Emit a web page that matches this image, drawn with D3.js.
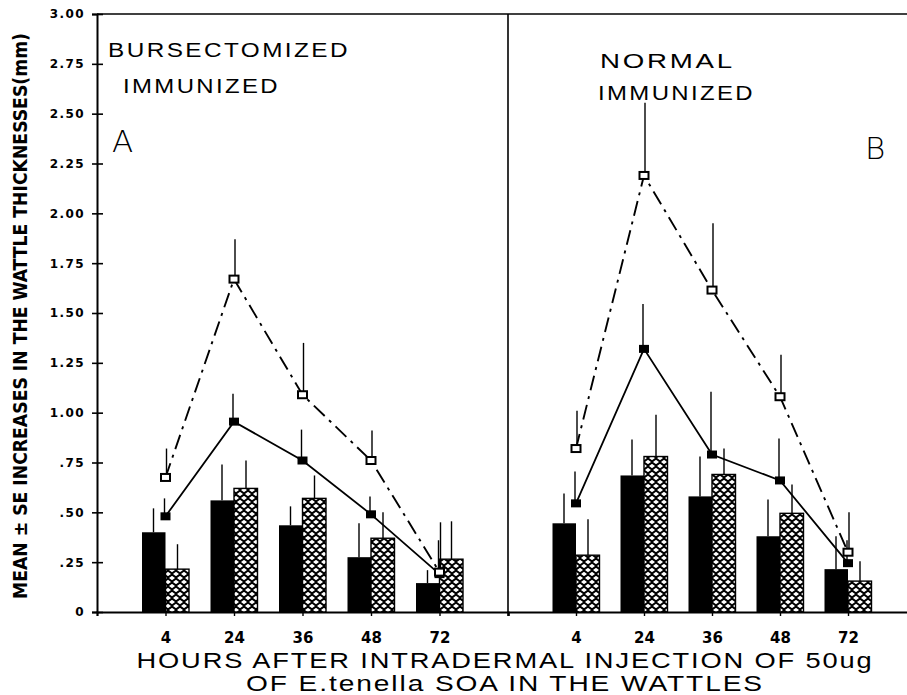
<!DOCTYPE html>
<html>
<head>
<meta charset="utf-8">
<script src="https://cdn.jsdelivr.net/npm/d3@7"></script>
<style>
  body { margin: 0; background: #fff; }
  svg { display: block; }
</style>
</head>
<body>
<script>
// hours after injection (x categories)
const hours = ["4", "24", "36", "48", "72"];
const yTicks = [0, 0.25, 0.5, 0.75, 1, 1.25, 1.5, 1.75, 2, 2.25, 2.5, 2.75, 3];

// panel A - bursectomized immunized
const barBlackA = [0.40, 0.56, 0.435, 0.275, 0.145];
const barBlackSeA = [0.12, 0.18, 0.095, 0.17, 0.065];
const barHatchA = [0.215, 0.62, 0.57, 0.37, 0.265];
const barHatchSeA = [0.125, 0.14, 0.115, 0.13, 0.19];
const solidA = [0.48, 0.955, 0.76, 0.49, 0.19];
const solidSeA = [0.09, 0.14, 0.155, 0.09, 0.17];
const dashA = [0.675, 1.67, 1.09, 0.76, 0.20];
const dashSeA = [0.145, 0.20, 0.26, 0.15, 0.25];

// panel B - normal immunized
const barBlackB = [0.445, 0.685, 0.58, 0.38, 0.215];
const barBlackSeB = [0.15, 0.18, 0.20, 0.185, 0.165];
const barHatchB = [0.285, 0.78, 0.69, 0.495, 0.155];
const barHatchSeB = [0.18, 0.21, 0.13, 0.145, 0.10];
const solidB = [0.545, 1.32, 0.79, 0.66, 0.245];
const solidSeB = [0.16, 0.225, 0.315, 0.21, 0.115];
const dashB = [0.82, 2.19, 1.615, 1.08, 0.30];
const dashSeB = [0.19, 0.365, 0.335, 0.21, 0.20];

const W = 907, H = 695;
const svg = d3.select("body").append("svg").attr("width", W).attr("height", H);

// crosshatch pattern (white diamonds on black)
const pat = svg.append("defs").append("pattern")
  .attr("id", "hatch").attr("patternUnits", "userSpaceOnUse")
  .attr("width", 8).attr("height", 8);
pat.append("rect").attr("width", 8).attr("height", 8).attr("fill", "#000");
[[4, 2], [0, 6], [8, 6]].forEach(([cx, cy]) => {
  pat.append("path")
    .attr("d", `M${cx - 3},${cy} L${cx},${cy - 2.2} L${cx + 3},${cy} L${cx},${cy + 2.2} Z`)
    .attr("fill", "#fff");
});

const y = d3.scaleLinear().domain([0, 3]).range([612, 14]);
const xA = d3.scalePoint().domain(hours).range([97, 508]).padding(1);
const xB = d3.scalePoint().domain(hours).range([508, 916]).padding(1);
const barW = 23.5;

// frame
svg.append("line").attr("x1", 97).attr("x2", W).attr("y1", y(3)).attr("y2", y(3))
  .attr("stroke", "#000").attr("stroke-width", 1.6);
svg.append("line").attr("x1", 508).attr("x2", 508).attr("y1", y(3)).attr("y2", y(0))
  .attr("stroke", "#000").attr("stroke-width", 1.6);

// y axis
const fmt = v => v === 0 ? "0" : (v < 1 ? d3.format(".2f")(v).slice(1) : d3.format(".2f")(v));
const yAxis = svg.append("g").attr("transform", "translate(97,0)")
  .call(d3.axisLeft(y).tickValues(yTicks).tickFormat(fmt).tickSize(5).tickPadding(7));
yAxis.select(".domain").attr("stroke-width", 2);
yAxis.selectAll(".tick line").attr("x1", 6).attr("x2", -5).attr("stroke-width", 1.6);
yAxis.selectAll(".tick text")
  .attr("font-family", "DejaVu Sans").attr("font-weight", "bold")
  .attr("font-size", 12).attr("letter-spacing", 1.4).attr("fill", "#000");

// x axes
function xAxis(sc) {
  const g = svg.append("g").attr("transform", "translate(0,612)")
    .call(d3.axisBottom(sc).tickSize(4).tickPadding(16));
  g.select(".domain").attr("stroke-width", 2.2);
  g.selectAll(".tick line").attr("stroke-width", 1.4);
  g.selectAll(".tick text").attr("font-family", "DejaVu Sans").attr("font-weight", "bold")
    .attr("font-size", 15).attr("fill", "#000");
}
xAxis(xA);
xAxis(xB);

function panel(x, blk, blkSe, hat, hatSe, sol, solSe, dsh, dshSe) {
  const g = svg.append("g");
  // bars
  g.selectAll(".bk").data(hours).join("rect")
    .attr("x", d => x(d) - barW).attr("width", barW)
    .attr("y", (d, i) => y(blk[i])).attr("height", (d, i) => y(0) - y(blk[i]))
    .attr("fill", "#000");
  g.selectAll(".ht").data(hours).join("rect").attr("class", "ht")
    .attr("x", d => x(d)).attr("width", barW)
    .attr("y", (d, i) => y(hat[i])).attr("height", (d, i) => y(0) - y(hat[i]))
    .attr("fill", "url(#hatch)").attr("stroke", "#000").attr("stroke-width", 1.4);
  // error bars
  const err = (vals, se, dx) => g.append("g").selectAll("line").data(hours).join("line")
    .attr("x1", d => x(d) + dx).attr("x2", d => x(d) + dx)
    .attr("y1", (d, i) => y(vals[i])).attr("y2", (d, i) => y(vals[i] + se[i]))
    .attr("stroke", "#000").attr("stroke-width", 1.4);
  err(blk, blkSe, -12);
  err(hat, hatSe, 12);
  err(sol, solSe, -1);
  err(dsh, dshSe, 1);

  const line = vals => d3.line().x((d, i) => x(hours[i])).y(d => y(d))(vals);
  g.append("path").attr("d", line(sol)).attr("fill", "none")
    .attr("stroke", "#000").attr("stroke-width", 1.8);
  g.append("path").attr("d", line(dsh)).attr("fill", "none")
    .attr("stroke", "#000").attr("stroke-width", 1.9).attr("stroke-dasharray", "15,6,3,6");

  g.append("g").selectAll("rect").data(hours).join("rect")
    .attr("x", d => x(d) - 5).attr("y", (d, i) => y(sol[i]) - 4)
    .attr("width", 10).attr("height", 8).attr("fill", "#000");
  g.append("g").selectAll("rect").data(hours).join("rect")
    .attr("x", d => x(d) - 4.5).attr("y", (d, i) => y(dsh[i]) - 3.5)
    .attr("width", 9).attr("height", 7).attr("fill", "#fff")
    .attr("stroke", "#000").attr("stroke-width", 2);
}
panel(xA, barBlackA, barBlackSeA, barHatchA, barHatchSeA, solidA, solidSeA, dashA, dashSeA);
panel(xB, barBlackB, barBlackSeB, barHatchB, barHatchSeB, solidB, solidSeB, dashB, dashSeB);

// panel labels
const lab = (txt, x, yy, size, len) => {
  const t = svg.append("text").attr("x", x).attr("y", yy).text(txt)
    .attr("font-family", "Liberation Sans").attr("font-size", size).attr("fill", "#000");
  if (len) t.attr("letter-spacing", 2).attr("textLength", len).attr("lengthAdjust", "spacingAndGlyphs");
  return t;
};
lab("BURSECTOMIZED", 108, 57, 20, 242);
lab("IMMUNIZED", 123, 93, 20, 157);
lab("NORMAL", 600, 68, 20, 135);
lab("IMMUNIZED", 598, 100, 20, 157);
lab("A", 112, 152, 31).attr("font-family", "DejaVu Sans").attr("font-weight", 200);
lab("B", 865, 159, 31).attr("font-family", "DejaVu Sans").attr("font-weight", 200);

// y title
svg.append("text")
  .attr("transform", "translate(27,316) rotate(-90)")
  .attr("text-anchor", "middle")
  .attr("font-family", "DejaVu Sans Condensed, DejaVu Sans").attr("font-stretch", "condensed")
  .attr("font-weight", "bold").attr("font-size", 19)
  .attr("textLength", 566).attr("lengthAdjust", "spacingAndGlyphs")
  .text("MEAN ± SE INCREASES IN THE WATTLE THICKNESSES(mm)");

// x title
const xt = (txt, yy, len) => svg.append("text").attr("x", 505).attr("y", yy)
  .attr("text-anchor", "middle")
  .attr("font-family", "Liberation Sans").attr("font-size", 22).attr("letter-spacing", 1.5)
  .attr("textLength", len).attr("lengthAdjust", "spacingAndGlyphs")
  .text(txt);
xt("HOURS AFTER INTRADERMAL INJECTION OF 50ug", 668, 737);
xt("OF E.tenella SOA IN THE WATTLES", 691, 518);
</script>
</body>
</html>
